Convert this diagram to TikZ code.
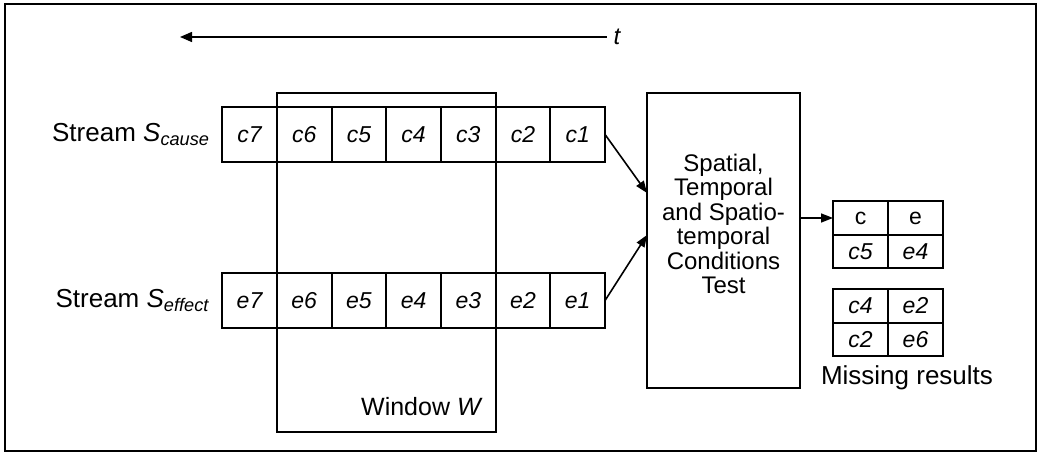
\documentclass[tikz,border=0pt]{standalone}
\usepackage{fontspec}
\setmainfont{Liberation Sans}
\usetikzlibrary{arrows.meta,positioning}

\begin{document}
\begin{tikzpicture}[x=0.5pt, y=-0.5pt,
  cell/.style={draw, line width=1pt, minimum width=27.35pt, minimum height=27.5pt,
    inner sep=0pt, outer sep=0pt, font=\fontsize{11.5}{12}\selectfont\itshape},
  res/.style={draw, line width=1pt, minimum width=27.5pt, minimum height=16.75pt,
    inner sep=0pt, outer sep=0pt, font=\fontsize{11.5}{12}\selectfont},
  box/.style={draw, line width=1pt, inner sep=0pt, outer sep=0pt},
  lbl/.style={font=\fontsize{12}{12.25}\selectfont},
  conn/.style={-{Triangle[length=6pt,width=4.5pt]}, line width=0.8pt},
  tarr/.style={-{Triangle[length=6pt,width=5pt]}, line width=0.7pt}
]
\useasboundingbox (0,0) rectangle (1038,453);
\draw[line width=1pt] (5,4) rectangle (1036,451);

% time axis
\node[lbl, font=\fontsize{12}{12}\selectfont\itshape] (t) at (617,37) {t};
\coordinate (tend) at (180,37);
\draw[tarr] (t.west) -- (tend);

% window
\node[box, minimum width=109.5pt, minimum height=169.5pt] (win) at (386.5,262.5) {};
\node[lbl, font=\fontsize{12.5}{13}\selectfont, anchor=south east, inner sep=0pt] (wlbl)
  at ([xshift=-6.5pt, yshift=8pt]win.south east) {Window \textit{W}};

% streams
\node[cell] (c7) at (249.5,134.5) {c7};
\foreach \i [evaluate=\i as \j using int(\i+1)] in {6,...,1}
  \node[cell, right=0pt of c\j] (c\i) {c\i};
\node[cell] (e7) at (249.5,300.5) {e7};
\foreach \i [evaluate=\i as \j using int(\i+1)] in {6,...,1}
  \node[cell, right=0pt of e\j] (e\i) {e\i};
\node[lbl, font=\fontsize{13}{13}\selectfont, left=2.5pt of c7] (scause)
  {Stream \textit{S}\textsubscript{\textit{cause}}};
\node[lbl, font=\fontsize{13}{13}\selectfont, left=2.5pt of e7] (seffect)
  {Stream \textit{S}\textsubscript{\textit{effect}}};

% test
\node[box, minimum width=76.5pt, minimum height=147.5pt] (test) at (723.5,240.5) {};
\node[lbl, align=center] (testtxt) at (723.5,224)
  {Spatial,\\Temporal\\and Spatio-\\temporal\\Conditions\\Test};
\coordinate (inc) at (647,193);
\coordinate (ine) at (647,235);
\draw[conn] (c1.east) -- (inc);
\draw[conn] (e1.east) -- (ine);

% results
\node[res] (rc) at (860.5,218) {c};
\node[res, right=0pt of rc] (re) {e};
\node[res, below=0pt of rc] (r5) {\textit{c5}};
\node[res, below=0pt of re] (r4) {\textit{e4}};
\draw[conn] (test.east |- rc.west) -- (rc.west);

\node[res] (m4) at (860.5,306) {\textit{c4}};
\node[res, right=0pt of m4] (m2) {\textit{e2}};
\node[res, below=0pt of m4] (n2) {\textit{c2}};
\node[res, below=0pt of m2] (n6) {\textit{e6}};
\node[lbl, font=\fontsize{13}{13}\selectfont] (miss) at (907,378) {Missing results};
\end{tikzpicture}
\end{document}
